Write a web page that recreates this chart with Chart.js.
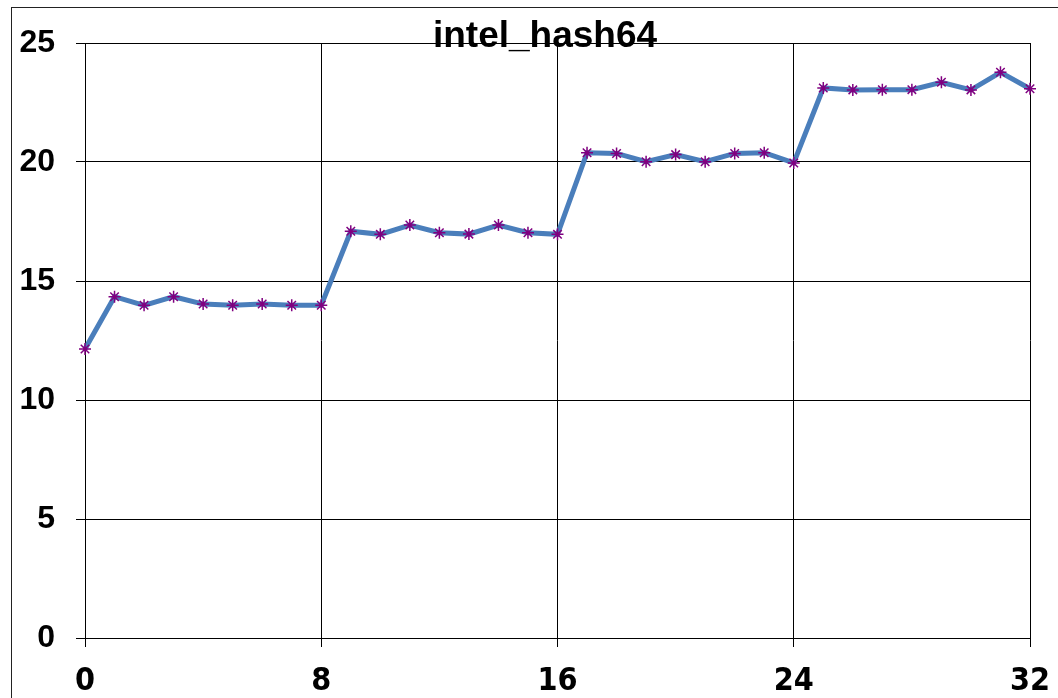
<!DOCTYPE html>
<html>
<head>
<meta charset="utf-8">
<script src="https://cdn.jsdelivr.net/npm/chart.js@4"></script>
<style>
  html, body { margin: 0; padding: 0; background: #fff; }
  #wrap { width: 1058px; height: 698px; position: relative; }
</style>
</head>
<body>
<div id="wrap"><canvas id="hashChart"></canvas></div>
<script>
const chartTitle = "intel_hash64";
const xValues = [0, 1, 2, 3, 4, 5, 6, 7, 8, 9, 10, 11, 12, 13, 14, 15, 16,
                 17, 18, 19, 20, 21, 22, 23, 24, 25, 26, 27, 28, 29, 30, 31, 32];
const yValues = [12.14, 14.34, 13.98, 14.34, 14.03, 13.98, 14.03, 13.98, 13.98,
                 17.09, 16.96, 17.35, 17.03, 16.97, 17.35, 17.03, 16.96,
                 20.39, 20.36, 20.01, 20.31, 20.01, 20.36, 20.39, 19.96,
                 23.11, 23.03, 23.04, 23.04, 23.35, 23.03, 23.77, 23.08];
const xTicks = [0, 8, 16, 24, 32];
const yTicks = [0, 5, 10, 15, 20, 25];

// outer frame + title drawn over the plot, like the original sheet
const frameAndTitle = {
    id: 'frameAndTitle',
    beforeDraw(chart) {
        const ctx = chart.ctx;
        ctx.save();
        ctx.fillStyle = '#fff';
        ctx.fillRect(0, 0, chart.width, chart.height);
        ctx.strokeStyle = '#222';
        ctx.lineWidth = 1;
        ctx.strokeRect(11.5, 7.5, chart.width + 20, chart.height + 20);
        ctx.restore();
    },
    afterDraw(chart) {
        const ctx = chart.ctx;
        ctx.save();
        ctx.font = 'bold 37px "Liberation Sans", Arial, sans-serif';
        ctx.fillStyle = '#000';
        ctx.textAlign = 'center';
        ctx.textBaseline = 'alphabetic';
        ctx.fillText(chartTitle, 545, 47);
        ctx.restore();
    }
};

const points = xValues.map((x, i) => ({ x: x, y: yValues[i] }));

new Chart(document.getElementById('hashChart'), {
    type: 'line',
    data: {
        datasets: [{
            data: points,
            borderColor: '#4a7ebb',
            borderWidth: 5,
            pointStyle: 'star',
            pointRadius: 6,
            pointBorderColor: '#800080',
            pointBackgroundColor: '#800080',
            pointBorderWidth: 1.5,
            tension: 0,
            fill: false,
            clip: false
        }]
    },
    options: {
        responsive: true,
        maintainAspectRatio: false,
        animation: false,
        layout: { autoPadding: false, padding: { top: 43, right: 28, left: 0, bottom: 0 } },
        plugins: {
            legend: { display: false },
            title: { display: false },
            tooltip: { enabled: false }
        },
        scales: {
            x: {
                type: 'linear',
                min: 0,
                max: 32,
                afterBuildTicks: axis => { axis.ticks = xTicks.map(v => ({ value: v })); },
                afterFit: axis => {
                    axis.height = 60;
                    axis.paddingLeft = 0;
                    axis.paddingRight = 0;
                },
                grid: { color: '#000', lineWidth: 1, tickLength: 9, tickColor: '#000' },
                border: { color: '#000', width: 1 },
                ticks: {
                    color: '#000',
                    padding: 15,
                    maxRotation: 0,
                    font: { family: '"Liberation Sans Narrow", "DejaVu Sans Condensed", Arial, sans-serif', size: 32, weight: 'bold' }
                }
            },
            y: {
                min: 0,
                max: 25,
                afterBuildTicks: axis => { axis.ticks = yTicks.map(v => ({ value: v })); },
                afterFit: axis => { axis.width = 85; },
                grid: { color: '#000', lineWidth: 1, tickLength: 9, tickColor: '#000' },
                border: { color: '#000', width: 1 },
                ticks: {
                    color: '#000',
                    padding: 21,
                    font: { family: '"Liberation Sans", Arial, sans-serif', size: 32, weight: 'bold' }
                }
            }
        }
    },
    plugins: [frameAndTitle]
});
</script>
</body>
</html>
